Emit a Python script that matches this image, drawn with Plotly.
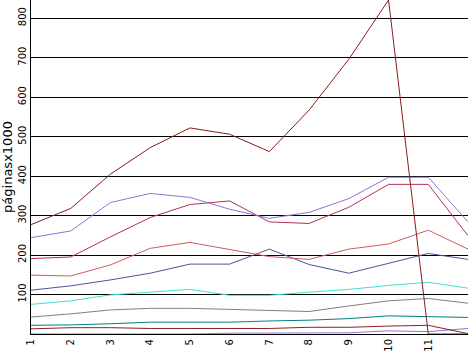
import plotly.graph_objects as go

x_vals = list(range(1, 13))
x_ticks = list(range(1, 12))
y_ticks = [100, 200, 300, 400, 500, 600, 700, 800]

serie_a = [277, 318, 405, 472, 522, 506, 462, 567, 696, 846, 0, 0]
serie_b = [244, 261, 333, 356, 346, 316, 293, 308, 343, 397, 397, 284]
serie_c = [191, 195, 246, 295, 328, 337, 284, 280, 321, 379, 379, 249]
serie_d = [149, 147, 175, 217, 232, 214, 196, 189, 215, 228, 263, 215]
serie_e = [111, 122, 137, 154, 177, 177, 215, 176, 154, 179, 204, 189]
serie_f = [75, 84, 99, 106, 113, 98, 98, 106, 113, 123, 131, 116]
serie_g = [43, 51, 61, 65, 65, 62, 60, 57, 71, 84, 90, 78]
serie_h = [22, 23, 26, 30, 30, 30, 33, 35, 39, 46, 44, 42]
serie_i = [13, 16, 16, 14, 14, 14, 14, 17, 17, 20, 22, 1]
serie_j = [0, 0, 0, 0, 0, 2, 2, 2, 3, 8, 6, 14]

series = [
    (serie_j, "#9370db"),
    (serie_i, "#8b2222"),
    (serie_h, "#008080"),
    (serie_g, "#808080"),
    (serie_f, "#40e0d0"),
    (serie_e, "#575096"),
    (serie_d, "#cd5c5c"),
    (serie_c, "#b03060"),
    (serie_b, "#9370db"),
    (serie_a, "#8b1a1a"),
]

fig = go.Figure()
for vals, col in series:
    fig.add_trace(go.Scatter(x=x_vals, y=vals, mode="lines",
                             line=dict(color=col, width=1),
                             showlegend=False, hoverinfo="skip"))

fig.update_layout(
    width=468, height=351,
    margin=dict(l=31, r=0, t=0, b=17),
    paper_bgcolor="white", plot_bgcolor="white",
    font=dict(family="DejaVu Sans", color="black", size=10),
    xaxis=dict(range=[1, 12], tickvals=x_ticks, ticktext=[str(v) for v in x_ticks],
               tickangle=-90, showgrid=False, zeroline=False,
               showline=True, linecolor="black", linewidth=1,
               ticks="", ticklen=0, tickfont=dict(size=10, family="DejaVu Sans")),
    yaxis=dict(range=[0, 846], tickvals=y_ticks, ticktext=[str(v) for v in y_ticks],
               tickangle=-90, showgrid=True, gridcolor="black", gridwidth=1,
               zeroline=False, showline=True, linecolor="black", linewidth=1,
               ticks="", ticklen=0, tickfont=dict(size=10, family="DejaVu Sans"),
               title=dict(text="páginasx1000", font=dict(size=13, family="DejaVu Sans"),
                          standoff=2)),
)

fig.write_html("out.html")
